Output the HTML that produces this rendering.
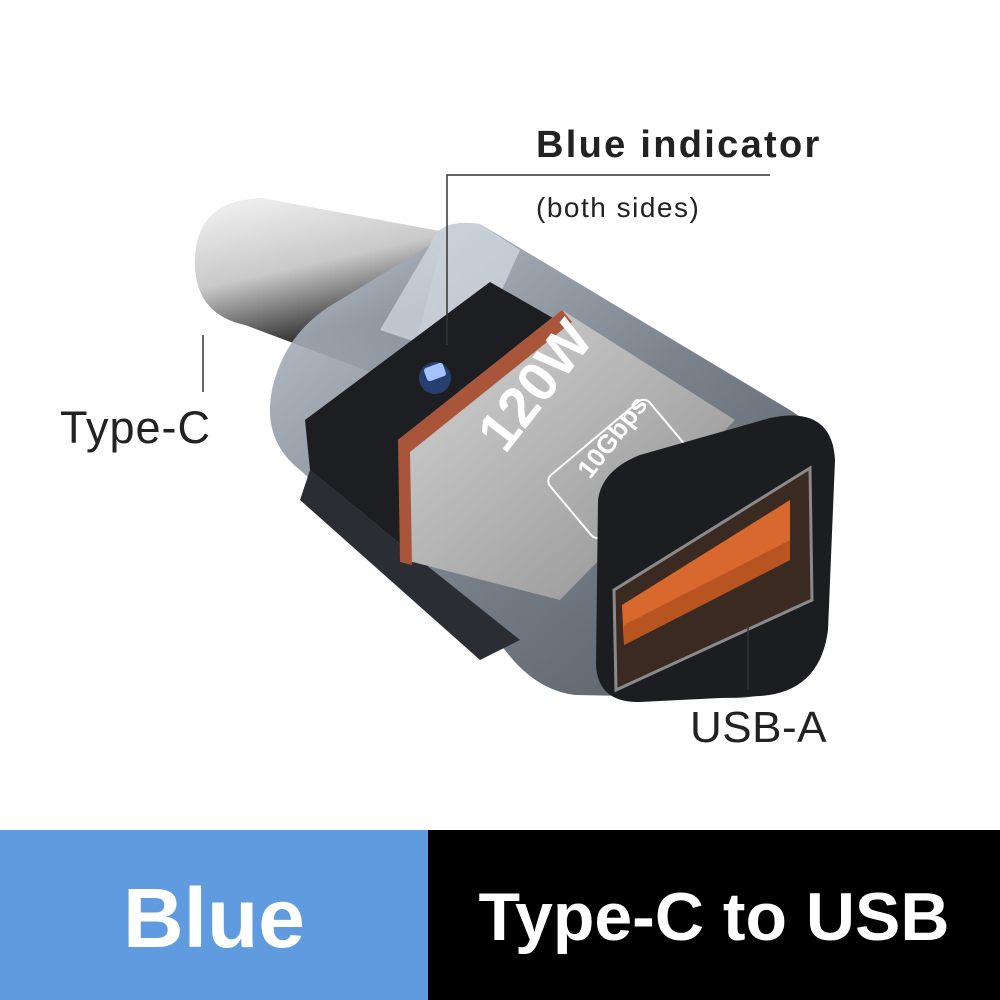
<!DOCTYPE html>
<html><head><meta charset="utf-8"><style>
html,body{margin:0;padding:0;background:#fff;}
body{width:1000px;height:1000px;position:relative;overflow:hidden;font-family:"Liberation Sans",sans-serif;}
.t{position:absolute;white-space:nowrap;color:#222;}
</style></head><body>
<svg width="1000" height="1000" style="position:absolute;left:0;top:0">
<defs>
<linearGradient id="plug" x1="0" y1="0" x2="0.3" y2="1">
<stop offset="0" stop-color="#f4f4f4"/><stop offset="0.45" stop-color="#c9c9c9"/><stop offset="0.8" stop-color="#3a3a3a"/><stop offset="1" stop-color="#888"/></linearGradient>
<linearGradient id="shell" x1="0" y1="0" x2="1" y2="1">
<stop offset="0" stop-color="#b9c2cc"/><stop offset="0.5" stop-color="#6c7680"/><stop offset="1" stop-color="#3c444c"/></linearGradient>
<linearGradient id="lab" x1="0" y1="0" x2="1" y2="1">
<stop offset="0" stop-color="#d6d6d6"/><stop offset="1" stop-color="#8e8e8e"/></linearGradient>
</defs>
<path d="M195 268 Q192 200 262 198 L445 232 L405 385 L245 325 Q198 315 195 268 Z" fill="url(#plug)"/>
<path d="M430 245 Q438 218 480 224 L790 410 Q838 440 832 500 L812 640 Q795 700 730 698 L575 695 Q535 690 505 650 L300 470 Q262 440 272 390 Q285 330 340 300 Z" fill="url(#shell)" opacity="0.9"/>
<path d="M430 245 Q438 218 480 224 L520 250 L470 360 L380 330 Z" fill="#dfe6ec" opacity="0.6"/>
<polygon points="305,420 490,282 600,345 420,560 310,470" fill="#1c1e21"/>
<polygon points="310,470 420,560 520,640 480,660 300,500" fill="#2a2d31"/>
<rect x="425" y="365" width="20" height="14" rx="3" fill="#dde8ff" transform="rotate(-20 435 372)"/>
<circle cx="435" cy="378" r="16" fill="#3c7dff" opacity="0.35"/>
<polygon points="398,440 562,310 735,420 560,600 405,560" fill="url(#lab)"/>
<polygon points="398,440 562,310 572,322 410,452 412,565 400,562" fill="#a9553a"/>
<text x="0" y="0" font-family="Liberation Sans" font-weight="bold" font-size="56" fill="#fff" transform="translate(505,455) rotate(-52)">120W</text>
<rect x="0" y="0" width="130" height="80" rx="8" fill="none" stroke="#fff" stroke-width="2" transform="translate(545,480) rotate(-40)"/>
<text x="0" y="0" font-family="Liberation Sans" font-weight="bold" font-size="26" fill="#fff" transform="translate(590,480) rotate(-52)">10Gbps</text>
<path d="M598 500 Q602 470 640 455 L770 418 Q832 405 835 460 L828 630 Q820 692 760 696 L640 702 Q598 703 596 665 Z" fill="#1b1d20"/>
<polygon points="614,590 810,468 812,600 616,690" fill="#3a2a22" stroke="#8a8a8a" stroke-width="3"/>
<polygon points="622,605 790,500 790,560 624,645" fill="#d9682e"/>
<polygon points="624,625 790,540 790,560 624,645" fill="#b8541f"/>
<polyline points="770,175 447,175 447,345" fill="none" stroke="#333" stroke-width="1.5"/>
<line x1="203" y1="335" x2="203" y2="392" stroke="#333" stroke-width="1.5"/>
<line x1="748" y1="625" x2="748" y2="690" stroke="#333" stroke-width="1.5"/>
<rect x="0" y="830" width="428" height="170" fill="#5f9bde"/>
<rect x="428" y="830" width="572" height="170" fill="#000"/>
</svg>
<div class="t" style="left:536px;top:124px;font-size:38px;font-weight:bold;letter-spacing:2.3px;">Blue indicator</div>
<div class="t" style="left:536px;top:192px;font-size:28px;letter-spacing:1.5px;">(both sides)</div>
<div class="t" style="left:60px;top:402px;font-size:45px;letter-spacing:1px;">Type-C</div>
<div class="t" style="left:690px;top:703px;font-size:44px;letter-spacing:0.5px;">USB-A</div>
<div class="t" style="left:0;width:428px;text-align:center;top:870px;font-size:84px;font-weight:bold;color:#fff;">Blue</div>
<div class="t" style="left:428px;width:572px;text-align:center;top:878px;font-size:68px;font-weight:bold;color:#fff;">Type-C to USB</div>
</body></html>
